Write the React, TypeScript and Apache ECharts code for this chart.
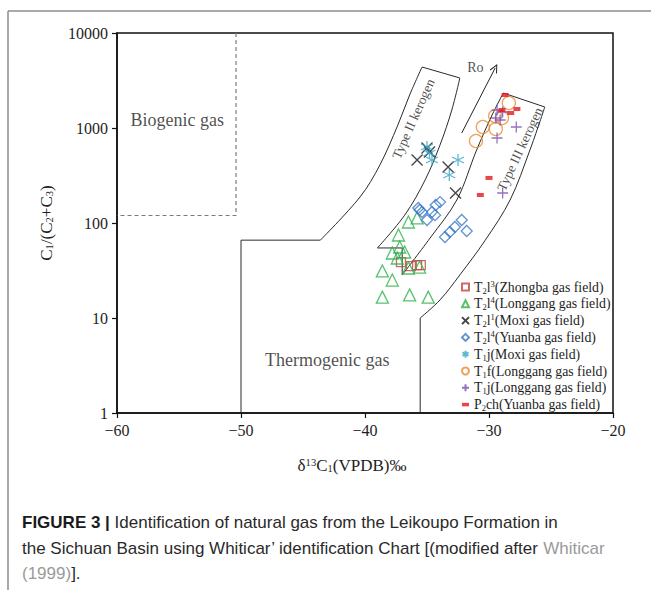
import React, { useEffect, useRef } from "react";
import * as echarts from "echarts";

// ---------------- data ----------------
const X_MIN = -60;
const X_MAX = -20;
const X_INTERVAL = 10;
const Y_MIN = 1;
const Y_MAX = 10000;

// T2l3 (Zhongba gas field)
const T2L3_ZHONGBA = [[-37.1, 38.8], [-36.3, 35.2], [-35.8, 36.1], [-35.5, 36.1]];
// T2l4 (Longgang gas field)
const T2L4_LONGGANG = [
  [-36.5, 102.5], [-35.8, 113], [-37.3, 74.8], [-37.2, 55.9], [-37.8, 48.3], [-37.4, 42.8],
  [-36.8, 49.5], [-35.6, 34.4], [-36.5, 33.6], [-38.6, 31.3], [-37.8, 25.1], [-38.6, 16.6],
  [-36.4, 17.5], [-34.9, 16.6],
];
// T2l1 (Moxi gas field)
const T2L1_MOXI = [[-35.8, 460], [-35.0, 616], [-34.8, 559], [-33.3, 388], [-32.7, 207]];
// T2l4 (Yuanba gas field)
const T2L4_YUANBA = [
  [-35.7, 144], [-35.6, 137], [-35.4, 130.6], [-35.0, 107.6], [-34.6, 130.6], [-34.3, 154.6],
  [-33.95, 166], [-34.35, 121], [-33.55, 71.3], [-33.15, 80.4], [-32.75, 90.8], [-32.2, 107.6],
  [-31.8, 82.4],
];
// T1j (Moxi gas field)
const T1J_MOXI = [[-35.0, 631], [-34.8, 546], [-34.6, 460], [-32.5, 460], [-33.2, 320]];
// T1f (Longgang gas field)
const T1F_LONGGANG = [[-31.05, 730], [-30.5, 1025], [-29.5, 1337], [-29.45, 975], [-28.95, 1274], [-28.4, 1833]];
// T1j (Longgang gas field)
const T1J_LONGGANG = [[-29.35, 1546], [-28.9, 1474], [-29.45, 1274], [-29.1, 1214], [-27.8, 1025], [-29.35, 785], [-28.9, 207]];
// P2ch (Yuanba gas field)
const P2CH_YUANBA = [[-28.7, 2225], [-28.95, 1546], [-28.25, 1438], [-27.75, 1585], [-30.0, 298], [-30.7, 197]];

// Whiticar boundaries
const BIOGENIC_BOUNDARY = [[-50.4, 10000], [-50.4, 120], [-60, 120]];
const THERMO_LOWER = [[-50, 1], [-50, 66], [-43.6, 66]];
const TYPE2_LEFT = [[-43.6, 66], [-40.4, 188], [-38.8, 408], [-37.35, 1075], [-36.4, 2225], [-35.4, 4385]];
const TYPE2_TOP = [[-35.4, 4385], [-32.35, 3360]];
const TYPE2_RIGHT = [[-32.35, 3360], [-33.0, 1546], [-33.95, 663], [-35.15, 284], [-36.8, 121], [-39.0, 54.6]];
const TYPE2_FOOT = [[-39.0, 54.6], [-37.0, 54.6], [-37.0, 28.4]];
const TYPE3_LEFT = [[-37.0, 28.4], [-34.75, 69.5], [-32.6, 174.6], [-31.0, 586], [-29.75, 1370], [-28.85, 2336]];
const TYPE3_TOP = [[-28.85, 2336], [-25.5, 1663]];
const TYPE3_RIGHT = [[-25.5, 1663], [-26.7, 586], [-28.3, 174.6], [-30.3, 66], [-32.35, 28.4], [-33.95, 15.5], [-35.55, 10]];
const THERMO_RIGHT = [[-35.55, 10], [-35.55, 1]];
const RO_ARROW = [[-32.2, 885], [-29.5, 4285]];

// annotation texts (data coordinates)
const ANNOTATIONS = [
  { text: "Biogenic gas", x: -55.15, y: 1213, rot: 0, size: 18 },
  { text: "Thermogenic gas", x: -43.05, y: 3.6, rot: 0, size: 18 },
  { text: "Type II kerogen", x: -36.1, y: 1250, rot: 66, size: 13.5 },
  { text: "Type III kerogen", x: -27.5, y: 600, rot: 65, size: 13.5 },
  { text: "Ro", x: -31.1, y: 4300, rot: 0, size: 14 },
];

const LEGEND_NAMES = [
  "T2l3(Zhongba gas field)",
  "T2l4(Longgang gas field)",
  "T2l1(Moxi gas field)",
  "T2l4(Yuanba gas field)",
  "T1j(Moxi gas field)",
  "T1f(Longgang gas field)",
  "T1j(Longgang gas field)",
  "P2ch(Yuanba gas field)",
];
const LEGEND_RICH = [
  "T{sub|2}l{sup|3}(Zhongba gas field)",
  "T{sub|2}l{sup|4}(Longgang gas field)",
  "T{sub|2}l{sup|1}(Moxi gas field)",
  "T{sub|2}l{sup|4}(Yuanba gas field)",
  "T{sub|1}j(Moxi gas field)",
  "T{sub|1}f(Longgang gas field)",
  "T{sub|1}j(Longgang gas field)",
  "P{sub|2}ch(Yuanba gas field)",
];

// ---------------- styling ----------------
const SERIF = '"Liberation Serif", "DejaVu Serif", serif';
const SANS = '"Liberation Sans", Arial, sans-serif';
const INK = "#1e1e1e";

const X_PATH = "path://M0,0L10,10M10,0L0,10";
const PLUS_PATH = "path://M5,0L5,10M0,5L10,5";
const AST_PATH = "path://M5,0L5,10M0.67,2.5L9.33,7.5M0.67,7.5L9.33,2.5";
const DASH_ICON = "path://M0,0L7,0L7,3.5L0,3.5Z";

const MARKERS = [
  { data: T2L3_ZHONGBA, symbol: "rect", size: 9, color: "#c4433c", hollow: true },
  { data: T2L4_LONGGANG, symbol: "triangle", size: 12, color: "#2eb04b", hollow: true },
  { data: T2L1_MOXI, symbol: X_PATH, size: 11, color: "#161616", hollow: true },
  { data: T2L4_YUANBA, symbol: "diamond", size: 11, color: "#3b78c8", hollow: true },
  { data: T1J_MOXI, symbol: AST_PATH, size: 12, color: "#36a6c9", hollow: true },
  { data: T1F_LONGGANG, symbol: "circle", size: 13, color: "#e98a2f", hollow: true },
  { data: T1J_LONGGANG, symbol: PLUS_PATH, size: 11, color: "#7a4db2", hollow: true },
  { data: P2CH_YUANBA, symbol: "rect", size: [7, 4], color: "#e3161d", hollow: false },
];

function subSupRich(size: number) {
  return {
    sub: { fontSize: size * 0.62, fontFamily: SERIF, color: INK, verticalAlign: "bottom", lineHeight: size * 0.62 },
    sup: { fontSize: size * 0.62, fontFamily: SERIF, color: INK, verticalAlign: "top", lineHeight: size * 0.62 },
  };
}

function boundary(data: number[][], smooth: boolean, dashed = false) {
  return {
    type: "line",
    data,
    smooth: smooth ? 0.35 : false,
    symbol: "none",
    silent: true,
    z: 1,
    lineStyle: dashed
      ? { color: "#7a7a7a", width: 1.2, type: [4, 3] }
      : { color: "#2a2a2a", width: 1 },
  };
}

export default function App() {
  const ref = useRef<HTMLDivElement>(null);

  useEffect(() => {
    document.body.style.margin = "0";
    const chart = echarts.init(ref.current!, null, { renderer: "svg" });

    const markerSeries = MARKERS.map((m, i) => ({
      type: "scatter",
      name: LEGEND_NAMES[i],
      data: m.data,
      symbol: m.symbol,
      symbolSize: m.size,
      z: 3,
      itemStyle: m.hollow
        ? { color: "transparent", borderColor: m.color, borderWidth: 1.3 }
        : { color: m.color, borderWidth: 0 },
    }));

    const annotationSeries = {
      type: "scatter",
      name: "annotations",
      silent: true,
      symbolSize: 1,
      z: 2,
      itemStyle: { color: "transparent" },
      data: ANNOTATIONS.map((a) => ({
        value: [a.x, a.y],
        label: {
          show: true,
          position: "inside",
          formatter: a.text,
          rotate: a.rot,
          fontSize: a.size,
          fontFamily: SERIF,
          color: INK,
        },
      })),
    };

    const roArrow = {
      type: "line",
      data: [],
      silent: true,
      symbol: "none",
      markLine: {
        silent: true,
        symbol: ["none", "path://M0,10L5,0L10,10L9,10.8L5,2.6L1,10.8Z"],
        symbolSize: [8, 9],
        label: { show: false },
        lineStyle: { color: "#222", width: 1, type: "solid" },
        data: [[{ coord: RO_ARROW[0] }, { coord: RO_ARROW[1] }]],
      },
    };

    chart.setOption({
      animation: false,
      grid: {
        left: 117,
        top: 33,
        width: 496,
        height: 380,
        show: true,
        borderColor: "#111",
        borderWidth: 1.5,
        backgroundColor: "transparent",
      },
      xAxis: {
        type: "value",
        min: X_MIN,
        max: X_MAX,
        interval: X_INTERVAL,
        name: "δ{sup|13}C{sub|1}(VPDB)‰",
        nameLocation: "middle",
        nameGap: 44,
        nameTextStyle: {
          fontFamily: SERIF,
          fontSize: 17,
          color: INK,
          padding: [0, 26, 0, 0],
          rich: subSupRich(17),
        },
        axisLine: { show: true, lineStyle: { color: "#111", width: 1.5 } },
        axisTick: { show: true, length: 5, lineStyle: { color: "#111", width: 1.2 } },
        axisLabel: {
          fontFamily: SERIF,
          fontSize: 16,
          color: INK,
          margin: 9,
          formatter: (v: number) => (v < 0 ? "\u2212" + Math.abs(v) : String(v)),
        },
        splitLine: { show: false },
      },
      yAxis: {
        type: "log",
        logBase: 10,
        min: Y_MIN,
        max: Y_MAX,
        name: "C{sub|1}/(C{sub|2}+C{sub|3})",
        nameLocation: "middle",
        nameRotate: 90,
        nameGap: 62,
        nameTextStyle: { fontFamily: SERIF, fontSize: 17, color: INK, rich: subSupRich(17) },
        axisLine: { show: true, lineStyle: { color: "#111", width: 1.5 } },
        axisTick: { show: true, length: 5, lineStyle: { color: "#111", width: 1.2 } },
        axisLabel: {
          fontFamily: SERIF,
          fontSize: 16,
          color: INK,
          margin: 9,
          formatter: (v: number) => String(Math.round(v)),
        },
        splitLine: { show: false },
        minorTick: { show: false },
      },
      legend: {
        orient: "vertical",
        left: 461,
        top: 279,
        itemWidth: 7,
        itemHeight: 7,
        itemGap: 0.8,
        padding: 0,
        data: LEGEND_NAMES.map((n, i) => (i === 7 ? { name: n, icon: DASH_ICON } : { name: n })),
        formatter: (name: string) => LEGEND_RICH[LEGEND_NAMES.indexOf(name)],
        textStyle: {
          fontFamily: SERIF,
          fontSize: 13.8,
          color: INK,
          lineHeight: 16,
          rich: subSupRich(13.8),
        },
        selectedMode: false,
      },
      graphic: [
        { type: "line", shape: { x1: 8, y1: 11, x2: 8, y2: 590 }, style: { stroke: "#8c8c8c", lineWidth: 1.5 } },
        { type: "line", shape: { x1: 8, y1: 11, x2: 651, y2: 11 }, style: { stroke: "#8c8c8c", lineWidth: 1.5 } },
        {
          type: "text",
          left: 22,
          top: 510,
          style: {
            text:
              "{b|FIGURE 3 |} Identification of natural gas from the Leikoupo Formation in\n" +
              "the Sichuan Basin using Whiticar\u2019 identification Chart [(modified after {g|Whiticar}\n" +
              "{g|(1999)}].",
            fontFamily: SANS,
            fontSize: 17,
            fill: "#2a2a2a",
            lineHeight: 25.5,
            rich: {
              b: { fontFamily: SANS, fontSize: 17, fontWeight: "bold", fill: "#1a1a1a", lineHeight: 25.5 },
              g: { fontFamily: SANS, fontSize: 17, fill: "#9a9a9a", lineHeight: 25.5 },
            },
          },
        },
      ],
      series: [
        boundary(BIOGENIC_BOUNDARY, false, true),
        boundary(THERMO_LOWER, false),
        boundary(TYPE2_LEFT, true),
        boundary(TYPE2_TOP, false),
        boundary(TYPE2_RIGHT, true),
        boundary(TYPE2_FOOT, false),
        boundary(TYPE3_LEFT, true),
        boundary(TYPE3_TOP, false),
        boundary(TYPE3_RIGHT, true),
        boundary(THERMO_RIGHT, false),
        roArrow,
        annotationSeries,
        ...markerSeries,
      ],
    });

    return () => chart.dispose();
  }, []);

  return <div ref={ref} style={{ width: 651, height: 590 }} />;
}
